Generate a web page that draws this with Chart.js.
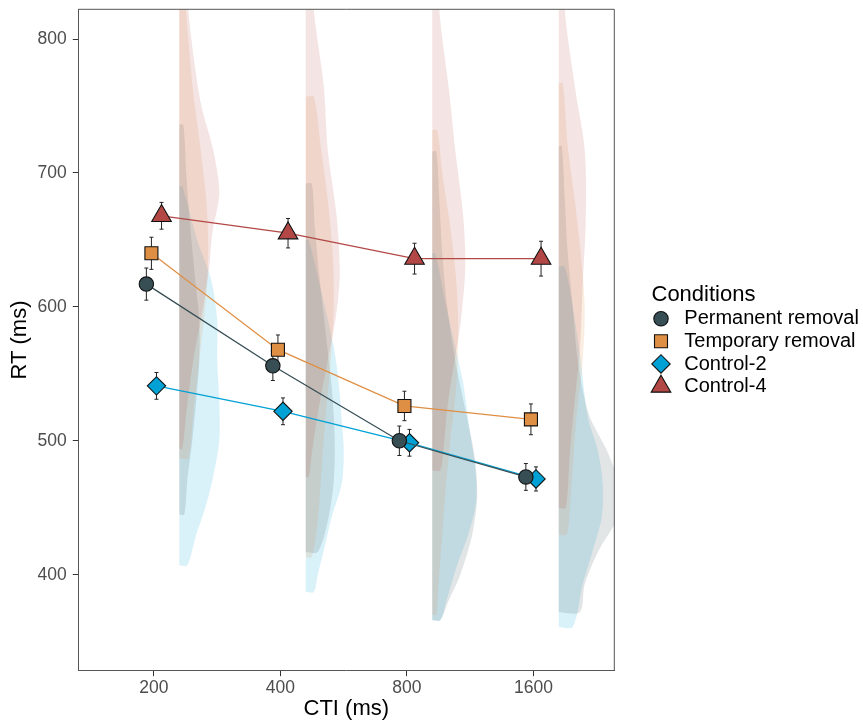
<!DOCTYPE html>
<html>
<head>
<meta charset="utf-8">
<script src="https://cdn.jsdelivr.net/npm/chart.js@4.4.1/dist/chart.umd.min.js"></script>
<style>
  html, body { margin: 0; padding: 0; background: #fff; }
  #wrap { width: 863px; height: 725px; }
</style>
</head>
<body>
<div id="wrap"><canvas id="chart" width="863" height="725"></canvas></div>
<script>
// x categories (CTI, ms) and y ticks (RT, ms)
const ctiLabels = ['200', '400', '800', '1600'];
const rtTicks = [400, 500, 600, 700, 800];

const conditions = ['Permanent removal', 'Temporary removal', 'Control-2', 'Control-4'];

// mean RT per CTI and standard error
const permMean = [617, 556, 500, 473];
const permSE = [12, 11, 11, 10];
const tempMean = [640, 568, 526, 516];
const tempSE = [12, 11, 11, 11.5];
const c2Mean = [541, 522, 498.5, 471.5];
const c2SE = [10, 10, 10, 9];
const c4Mean = [668, 655, 636, 636];
const c4SE = [10, 11, 11.5, 13];

// half-violin density profiles, one list per CTI: RT values (top -> bottom) and density
const permViolinRT = [
  [736, 700, 660, 620, 590, 560, 530, 500, 470, 445],
  [692, 660, 620, 580, 540, 500, 470, 440, 417],
  [716, 680, 640, 600, 560, 520, 490, 460, 430, 400, 380, 366],
  [720, 680, 640, 600, 560, 520, 493, 470, 452, 440, 418, 393, 372]
];
const permViolinDens = [
  [4, 7, 11, 16, 20, 20, 17, 13, 8, 5],
  [6, 9, 14, 20, 26, 29, 28, 22, 12],
  [4, 7, 10, 15, 23, 34, 42, 45, 40, 28, 16, 8],
  [3, 6, 9, 14, 19, 30, 48, 60, 66, 58, 40, 26, 21]
];
const tempViolinRT = [
  [840, 800, 760, 720, 680, 640, 600, 560, 520, 487],
  [757, 720, 680, 640, 600, 560, 520, 480, 440, 413],
  [732, 700, 660, 620, 580, 540, 500, 460, 420, 390, 370],
  [767, 720, 680, 640, 600, 560, 520, 480, 450, 430]
];
const tempViolinDens = [
  [4, 9, 14, 21, 27, 29, 26, 20, 14, 9],
  [8, 15, 22, 27, 28, 25, 20, 16, 12, 6],
  [5, 10, 18, 24, 26, 24, 18, 13, 9, 6, 4],
  [4, 9, 16, 22, 26, 24, 18, 14, 11, 8]
];
const c2ViolinRT = [
  [690, 650, 620, 590, 560, 530, 500, 470, 450, 430, 407],
  [650, 610, 570, 543, 515, 493, 468, 443, 418, 400, 387],
  [640, 600, 560, 543, 505, 480, 455, 430, 405, 380, 366],
  [630, 600, 560, 518, 493, 468, 443, 418, 393, 361]
];
const c2ViolinDens = [
  [3, 18, 32, 38, 38, 40, 40, 33, 26, 17, 8],
  [3, 16, 28, 33, 36, 38, 36, 26, 18, 12, 8],
  [3, 14, 26, 31, 38, 43, 44, 36, 24, 14, 8],
  [6, 14, 22, 29, 39, 44, 43, 34, 24, 14]
];
const c4ViolinRT = [
  [900, 822, 754, 717, 685, 655, 630, 600, 560, 520, 494],
  [900, 822, 765, 717, 667, 625, 592, 560, 520, 490, 473],
  [900, 822, 760, 717, 667, 630, 592, 567, 530, 500, 478],
  [900, 822, 760, 717, 667, 617, 567, 530, 490, 450]
];
const c4ViolinDens = [
  [3, 9, 21, 34, 40, 33, 30, 24, 14, 7, 3],
  [3, 8, 18, 22, 31, 34, 30, 22, 12, 6, 3],
  [3, 7, 17, 23, 31, 33, 29, 24, 16, 12, 8],
  [3, 6, 17, 26, 27, 24, 21, 16, 11, 7]
];

const colors = ['#374E55', '#DF8F44', '#00A1D5', '#B24745'];
const fills = ['rgba(55,78,85,0.15)', 'rgba(223,143,68,0.15)', 'rgba(0,161,213,0.15)', 'rgba(178,71,69,0.15)'];
const shapes = ['circle', 'rect', 'rectRot', 'triangle'];
const radii = [7.2, 9.2, 9.2, 11.3];
const dodge = [-0.06, -0.02, 0.02, 0.06];
const violinOffset = 0.2;
const densToX = 1 / 126.5;

const means = [permMean, tempMean, c2Mean, c4Mean];
const ses = [permSE, tempSE, c2SE, c4SE];
const violinRT = [permViolinRT, tempViolinRT, c2ViolinRT, c4ViolinRT];
const violinDens = [permViolinDens, tempViolinDens, c2ViolinDens, c4ViolinDens];

const fontFamily = "'Liberation Sans', Arial, Helvetica, sans-serif";
Chart.defaults.font.family = fontFamily;

// mean lines + points
const condSets = conditions.map((name, ci) => ({
  label: name,
  data: means[ci].map((m, i) => ({ x: i + 1 + dodge[ci], y: m })),
  borderColor: colors[ci],
  borderWidth: 1.3,
  backgroundColor: colors[ci],
  pointStyle: shapes[ci],
  pointRadius: radii[ci],
  pointBackgroundColor: colors[ci],
  pointBorderColor: '#111',
  pointBorderWidth: 1.1,
  fill: false,
  tension: 0,
  clip: false,
  order: 0
}));

// half violins, flat edge on the left
const violinSets = [];
[3, 1, 0, 2].forEach(ci => {
  violinRT[ci].forEach((rts, g) => {
    const x0 = g + 1 + violinOffset;
    const dens = violinDens[ci][g];
    const pts = [{ x: x0, y: rts[0] }];
    rts.forEach((r, k) => pts.push({ x: x0 + dens[k] * densToX, y: r }));
    pts.push({ x: x0, y: rts[rts.length - 1] });
    violinSets.push({
      label: conditions[ci] + ' density ' + ctiLabels[g],
      data: pts,
      borderWidth: 0,
      borderColor: 'rgba(0,0,0,0)',
      backgroundColor: fills[ci],
      pointRadius: 0,
      fill: 'shape',
      tension: 0.3,
      order: 1
    });
  });
});

const panelBorder = {
  id: 'panelBorder',
  afterDatasetsDraw(chart) {
    const { ctx, chartArea: a } = chart;
    ctx.save();
    ctx.strokeStyle = '#555';
    ctx.lineWidth = 1;
    ctx.beginPath();
    ctx.moveTo(a.left, a.top);
    ctx.lineTo(a.right, a.top);
    ctx.lineTo(a.right, a.bottom);
    ctx.stroke();
    ctx.restore();
  }
};

const errorBars = {
  id: 'errorBars',
  beforeDatasetsDraw(chart) {
    const { ctx, scales: { x, y } } = chart;
    ctx.save();
    ctx.strokeStyle = '#222';
    ctx.lineWidth = 1;
    means.forEach((ms, ci) => {
      ms.forEach((m, i) => {
        const px = x.getPixelForValue(i + 1 + dodge[ci]);
        const top = y.getPixelForValue(m + ses[ci][i]);
        const bot = y.getPixelForValue(m - ses[ci][i]);
        ctx.beginPath();
        ctx.moveTo(px, top); ctx.lineTo(px, bot);
        ctx.moveTo(px - 2, top); ctx.lineTo(px + 2, top);
        ctx.moveTo(px - 2, bot); ctx.lineTo(px + 2, bot);
        ctx.stroke();
      });
    });
    ctx.restore();
  }
};

const legendBox = {
  id: 'legendBox',
  afterDraw(chart) {
    const ctx = chart.ctx;
    ctx.save();
    ctx.fillStyle = '#000';
    ctx.textBaseline = 'alphabetic';
    ctx.textAlign = 'left';
    ctx.font = '22px ' + fontFamily;
    ctx.fillText('Conditions', 651.5, 300.7);
    ctx.font = '20px ' + fontFamily;
    conditions.forEach((name, ci) => {
      const cy = 318.7 + ci * 22.6;
      ctx.fillStyle = colors[ci];
      ctx.strokeStyle = '#111';
      ctx.lineWidth = 1.1;
      Chart.helpers.drawPoint(ctx, { pointStyle: shapes[ci], radius: radii[ci], rotation: 0, borderWidth: 1.1 }, 661, cy);
      ctx.fillStyle = '#000';
      ctx.fillText(name, 684.3, cy + 5.7);
    });
    ctx.restore();
  }
};

const noScalePadding = s => {
  s.paddingTop = 0; s.paddingBottom = 0; s.paddingLeft = 0; s.paddingRight = 0;
};

new Chart(document.getElementById('chart'), {
  type: 'line',
  data: { datasets: [...condSets, ...violinSets] },
  options: {
    responsive: false,
    animation: false,
    events: [],
    layout: { autoPadding: false, padding: { top: 9.3, right: 248.7, left: 0, bottom: 0 } },
    plugins: { legend: { display: false }, tooltip: { enabled: false } },
    scales: {
      x: {
        type: 'linear',
        min: 0.402,
        max: 4.639,
        afterBuildTicks: s => { s.ticks = ctiLabels.map((l, i) => ({ value: i + 1 })); },
        afterFit: s => { s.height = 54.3; noScalePadding(s); },
        ticks: {
          callback: (v, i) => ctiLabels[i],
          color: '#4D4D4D',
          font: { size: 17.5 },
          padding: 1,
          maxRotation: 0,
          autoSkip: false
        },
        grid: { drawOnChartArea: false, tickLength: 5.5, color: '#333', lineWidth: 1 },
        border: { color: '#555', width: 1 },
        title: { display: true, text: 'CTI (ms)', color: '#000', font: { size: 22 }, padding: { top: 0, bottom: 2.4 } }
      },
      y: {
        min: 328.3,
        max: 822.2,
        afterBuildTicks: s => { s.ticks = rtTicks.map(v => ({ value: v })); },
        afterFit: s => { s.width = 78.3; noScalePadding(s); },
        ticks: { color: '#4D4D4D', font: { size: 17.5 }, padding: 6 },
        grid: { drawOnChartArea: false, tickLength: 5.5, color: '#333', lineWidth: 1 },
        border: { color: '#555', width: 1 },
        title: { display: true, text: 'RT (ms)', color: '#000', font: { size: 22 }, padding: { top: 7.2, bottom: 0 } }
      }
    }
  },
  plugins: [panelBorder, errorBars, legendBox]
});
</script>
</body>
</html>
